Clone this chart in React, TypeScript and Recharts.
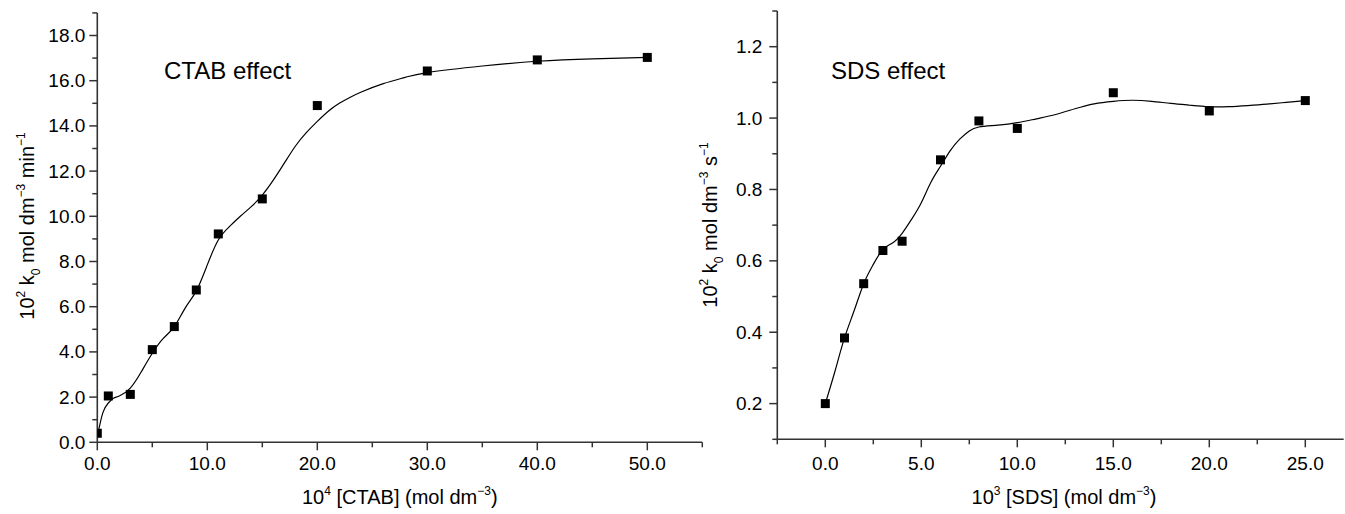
import React from "react"
import { ComposedChart, Line, Scatter, XAxis, YAxis, Label } from "recharts"

// measured points, CTAB series (10^4 [CTAB] vs 10^2 k0)
const ctabConc = [0, 1, 3, 5, 7, 9, 11, 15, 20, 30, 40, 50]
const ctabK = [0.4, 2.05, 2.12, 4.1, 5.12, 6.74, 9.22, 10.77, 14.9, 16.43, 16.92, 17.03]

// smooth fitted curve
const ctabFitConc = [0, 0.5, 1, 1.5, 2, 3, 4, 5, 6, 7, 8, 9, 10, 11, 12, 13, 14, 15, 16, 17, 18, 19, 20, 21, 22, 23, 24, 26, 28, 30, 35, 40, 45, 50]
const ctabFitK = [0.25, 1.3, 1.74, 1.96, 2.05, 2.4, 3.12, 3.94, 4.6, 5.12, 5.95, 6.7, 7.85, 8.95, 9.54, 10.0, 10.43, 10.94, 11.6, 12.35, 13.1, 13.7, 14.2, 14.65, 15.0, 15.27, 15.5, 15.87, 16.15, 16.36, 16.65, 16.86, 16.97, 17.03]

// SDS series
const sdsConc = [0, 1, 2, 3, 4, 6, 8, 10, 15, 20, 25]
const sdsK = [0.2, 0.384, 0.536, 0.629, 0.655, 0.883, 0.992, 0.971, 1.071, 1.02, 1.049]

const sdsFitConc = [0, 0.5, 1, 1.5, 2, 2.5, 3, 3.5, 4, 4.5, 5, 5.5, 6, 6.5, 7, 7.5, 8, 9, 10, 11, 12, 13, 14, 15, 16, 17, 18, 19, 20, 21, 22, 23, 24, 25]
const sdsFitK = [0.2, 0.29, 0.384, 0.46, 0.536, 0.59, 0.632, 0.65, 0.677, 0.717, 0.763, 0.82, 0.865, 0.908, 0.941, 0.964, 0.975, 0.98, 0.987, 0.998, 1.01, 1.026, 1.04, 1.047, 1.05, 1.047, 1.041, 1.036, 1.032, 1.032, 1.035, 1.039, 1.044, 1.049]

// axis ticks
const ctabXTicks = [0, 5, 10, 15, 20, 25, 30, 35, 40, 45, 50, 55]
const ctabXLabels = [0, 10, 20, 30, 40, 50]
const ctabYTicks = [0, 1, 2, 3, 4, 5, 6, 7, 8, 9, 10, 11, 12, 13, 14, 15, 16, 17, 18, 19]
const ctabYLabels = [0, 2, 4, 6, 8, 10, 12, 14, 16, 18]

const sdsXTicks = [-2.5, 0, 2.5, 5, 7.5, 10, 12.5, 15, 17.5, 20, 22.5, 25]
const sdsXLabels = [0, 5, 10, 15, 20, 25]
const sdsYTicks = [0.1, 0.2, 0.3, 0.4, 0.5, 0.6, 0.7, 0.8, 0.9, 1.0, 1.1, 1.2, 1.3]
const sdsYLabels = [0.2, 0.4, 0.6, 0.8, 1.0, 1.2]

const FONT = "'Liberation Sans', Arial, Helvetica, sans-serif"
const AXIS = "#333"
const TICK_FONT = 19

const toRows = (xs: number[], ys: number[]) => xs.map((x, i) => ({ x, y: ys[i] }))
const has = (list: number[], v: number) => list.some((m) => Math.abs(m - v) < 1e-6)

const YTick = (props: any) => {
  const { x, y, payload, labels, gap } = props
  const major = has(labels, payload.value)
  return (
    <g>
      <line x1={x - (major ? 8 : 5)} x2={x} y1={y} y2={y} stroke={AXIS} strokeWidth={1.5} />
      {major && (
        <text x={x - gap} y={y} textAnchor="end" dominantBaseline="central" fontFamily={FONT} fontSize={TICK_FONT} fill="#000">
          {Number(payload.value).toFixed(1)}
        </text>
      )}
    </g>
  )
}

const XTick = (props: any) => {
  const { x, y, payload, labels, gap } = props
  const major = has(labels, payload.value)
  return (
    <g>
      <line x1={x} x2={x} y1={y} y2={y + (major ? 8 : 5)} stroke={AXIS} strokeWidth={1.5} />
      {major && (
        <text x={x} y={y + gap} textAnchor="middle" dominantBaseline="central" fontFamily={FONT} fontSize={TICK_FONT} fill="#000">
          {Number(payload.value).toFixed(1)}
        </text>
      )}
    </g>
  )
}

const Square = (props: any) => {
  const { cx, cy } = props
  if (cx == null || cy == null) return null
  return <rect x={cx - 4.5} y={cy - 4.5} width={9} height={9} fill="#000" />
}

type Part = [string, "n" | "sup" | "sub"]

const renderParts = (parts: Part[], size: number) => {
  let level = 0
  return parts.map(([t, k], i) => {
    const target = k === "sup" ? -0.45 * size : k === "sub" ? 0.3 * size : 0
    const dy = target - level
    level = target
    return (
      <tspan key={i} dy={dy} fontSize={k === "n" ? size : size * 0.6}>
        {t}
      </tspan>
    )
  })
}

const Title = ({ x, y, parts, rotate }: { x: number; y: number; parts: Part[]; rotate?: boolean }) => (
  <text
    x={x}
    y={y}
    textAnchor="middle"
    fontFamily={FONT}
    fontSize={20}
    fill="#000"
    style={{ whiteSpace: "pre" }}
    transform={rotate ? `rotate(-90, ${x}, ${y})` : undefined}
  >
    {renderParts(parts, 20)}
  </text>
)

const Note = ({ x, y, text }: { x: number; y: number; text: string }) => (
  <text x={x} y={y} fontFamily={FONT} fontSize={24} fill="#000">
    {text}
  </text>
)

const ctabPoints = toRows(ctabConc, ctabK)
const ctabCurve = toRows(ctabFitConc, ctabFitK)
const sdsPoints = toRows(sdsConc, sdsK)
const sdsCurve = toRows(sdsFitConc, sdsFitK)

export default function App() {
  return (
    <div style={{ position: "absolute", left: 0, top: 0, width: 1345, height: 514, background: "#fff" }}>
      <div style={{ position: "absolute", left: 0, top: 0 }}>
        <ComposedChart width={720} height={514} margin={{ top: 12.9, right: 17.7, bottom: 11.7, left: 0 }}>
          <XAxis
            type="number"
            dataKey="x"
            domain={[0, 55]}
            ticks={ctabXTicks}
            interval={0}
            tickSize={0}
            tickMargin={0}
            tickLine={false}
            axisLine={{ stroke: AXIS, strokeWidth: 1.6 }}
            height={60}
            tick={(p: any) => <XTick {...p} labels={ctabXLabels} gap={21} />}
            allowDataOverflow
          >
            <Label
              content={(p: any) => (
                <Title
                  x={p.viewBox.x + p.viewBox.width / 2}
                  y={504}
                  parts={[["10", "n"], ["4", "sup"], [" [CTAB] (mol dm", "n"], ["−3", "sup"], [")", "n"]]}
                />
              )}
            />
          </XAxis>
          <YAxis
            type="number"
            dataKey="y"
            domain={[0, 19]}
            ticks={ctabYTicks}
            interval={0}
            tickSize={0}
            tickMargin={0}
            tickLine={false}
            axisLine={{ stroke: AXIS, strokeWidth: 1.6 }}
            width={97.3}
            tick={(p: any) => <YTick {...p} labels={ctabYLabels} gap={12} />}
            allowDataOverflow
          >
            <Label
              content={() => (
                <Title
                  x={34}
                  y={226}
                  rotate
                  parts={[["10", "n"], ["2", "sup"], [" k", "n"], ["0", "sub"], [" mol dm", "n"], ["−3", "sup"], [" min", "n"], ["−1", "sup"]]}
                />
              )}
            />
            <Label content={() => <Note x={164} y={79} text="CTAB effect" />} />
          </YAxis>
          <Line
            data={ctabCurve}
            dataKey="y"
            type="natural"
            stroke="#000"
            strokeWidth={1.2}
            dot={false}
            activeDot={false}
            isAnimationActive={false}
          />
          <Scatter data={ctabPoints} dataKey="y" shape={Square} isAnimationActive={false} />
        </ComposedChart>
      </div>
      <div style={{ position: "absolute", left: 660, top: 0 }}>
        <ComposedChart width={685} height={514} margin={{ top: 11, right: 1.3, bottom: 14.7, left: 0 }}>
          <XAxis
            type="number"
            dataKey="x"
            domain={[-2.5, 27]}
            ticks={sdsXTicks}
            interval={0}
            tickSize={0}
            tickMargin={0}
            tickLine={false}
            axisLine={{ stroke: AXIS, strokeWidth: 1.6 }}
            height={60}
            tick={(p: any) => <XTick {...p} labels={sdsXLabels} gap={24} />}
            allowDataOverflow
          >
            <Label
              content={(p: any) => (
                <Title
                  x={p.viewBox.x + p.viewBox.width / 2 + 3.5}
                  y={504}
                  parts={[["10", "n"], ["3", "sup"], [" [SDS] (mol dm", "n"], ["−3", "sup"], [")", "n"]]}
                />
              )}
            />
          </XAxis>
          <YAxis
            type="number"
            dataKey="y"
            domain={[0.1, 1.3]}
            ticks={sdsYTicks}
            interval={0}
            tickSize={0}
            tickMargin={0}
            tickLine={false}
            axisLine={{ stroke: AXIS, strokeWidth: 1.6 }}
            width={117.3}
            tick={(p: any) => <YTick {...p} labels={sdsYLabels} gap={15} />}
            allowDataOverflow
          >
            <Label
              content={() => (
                <Title
                  x={57}
                  y={225}
                  rotate
                  parts={[["10", "n"], ["2", "sup"], [" k", "n"], ["0", "sub"], [" mol dm", "n"], ["−3", "sup"], [" s", "n"], ["−1", "sup"]]}
                />
              )}
            />
            <Label content={() => <Note x={171} y={79} text="SDS effect" />} />
          </YAxis>
          <Line
            data={sdsCurve}
            dataKey="y"
            type="natural"
            stroke="#000"
            strokeWidth={1.2}
            dot={false}
            activeDot={false}
            isAnimationActive={false}
          />
          <Scatter data={sdsPoints} dataKey="y" shape={Square} isAnimationActive={false} />
        </ComposedChart>
      </div>
    </div>
  )
}
